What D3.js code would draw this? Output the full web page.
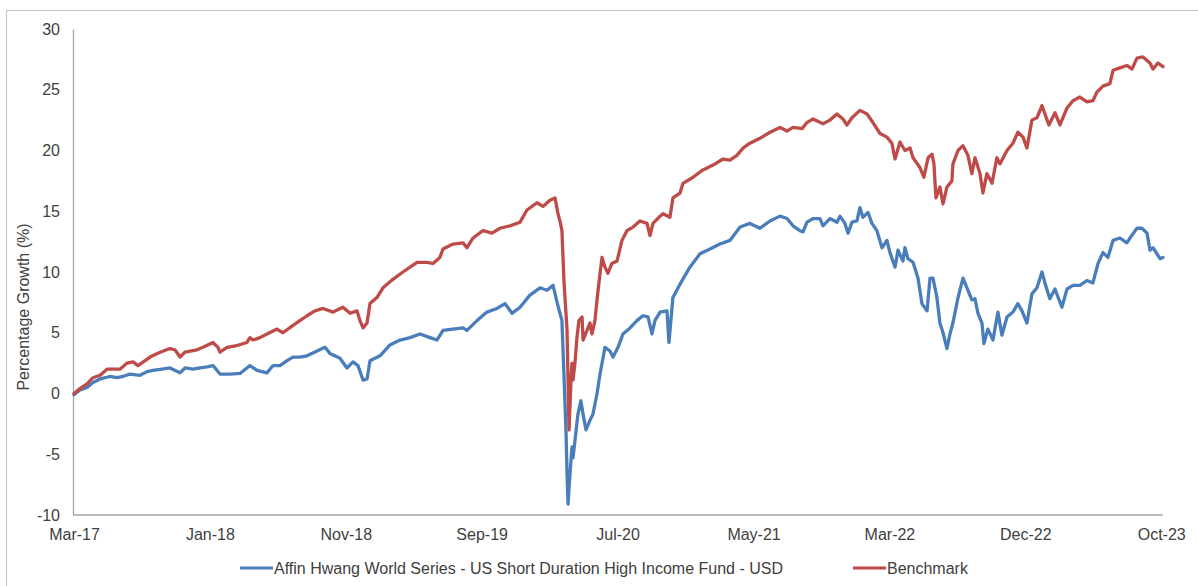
<!DOCTYPE html>
<html>
<head>
<meta charset="utf-8">
<script src="https://cdn.jsdelivr.net/npm/d3@7"></script>
<style>
  body { margin: 0; background: #fff; }
  text { font-family: "Liberation Sans", Arial, sans-serif; fill: #404040; }
</style>
</head>
<body>
<svg width="1198" height="586"></svg>
<script>
// x values are decimal years, y values are % growth
var fund = [
  [2017.200, -0.1], [2017.236, 0.3], [2017.279, 0.5], [2017.315, 0.9], [2017.358, 1.2],
  [2017.418, 1.4], [2017.461, 1.3], [2017.497, 1.4], [2017.540, 1.6], [2017.600, 1.5],
  [2017.643, 1.8], [2017.679, 1.9], [2017.734, 2.0], [2017.782, 2.1], [2017.843, 1.7],
  [2017.873, 2.1], [2017.922, 2.0], [2017.964, 2.1], [2018.007, 2.2], [2018.043, 2.3],
  [2018.085, 1.6], [2018.146, 1.6], [2018.207, 1.65], [2018.267, 2.3], [2018.310, 1.9],
  [2018.370, 1.7], [2018.407, 2.3], [2018.449, 2.3], [2018.492, 2.7], [2018.528, 3.0],
  [2018.570, 3.0], [2018.613, 3.1], [2018.674, 3.5], [2018.722, 3.8], [2018.752, 3.3],
  [2018.813, 2.9], [2018.855, 2.1], [2018.892, 2.6], [2018.922, 2.3], [2018.953, 1.1],
  [2018.977, 1.2], [2018.995, 2.7], [2019.056, 3.1], [2019.116, 4.0], [2019.177, 4.4],
  [2019.238, 4.6], [2019.298, 4.9], [2019.359, 4.6], [2019.401, 4.4], [2019.438, 5.2],
  [2019.498, 5.3], [2019.559, 5.4], [2019.583, 5.2], [2019.644, 6.0], [2019.704, 6.7],
  [2019.765, 7.0], [2019.814, 7.4], [2019.856, 6.6], [2019.905, 7.1], [2019.965, 8.1],
  [2020.026, 8.7], [2020.068, 8.5], [2020.105, 8.9], [2020.135, 7.2], [2020.159, 6.0],
  [2020.171, 1.6], [2020.184, -3.3], [2020.190, -6.6], [2020.196, -9.1], [2020.208, -6.6],
  [2020.220, -4.4], [2020.226, -5.3], [2020.238, -3.9], [2020.256, -1.7], [2020.274, -0.6],
  [2020.287, -1.7], [2020.305, -3.0], [2020.329, -2.2], [2020.347, -1.7], [2020.372, 0.0],
  [2020.390, 1.6], [2020.420, 3.8], [2020.450, 3.5], [2020.469, 3.0], [2020.499, 3.8],
  [2020.529, 4.9], [2020.572, 5.4], [2020.614, 6.0], [2020.650, 6.4], [2020.681, 6.3],
  [2020.705, 4.9], [2020.723, 6.0], [2020.754, 6.7], [2020.796, 6.8], [2020.808, 4.2],
  [2020.832, 7.9], [2020.875, 9.0], [2020.935, 10.4], [2020.996, 11.5], [2021.057, 11.9],
  [2021.117, 12.3], [2021.178, 12.6], [2021.239, 13.7], [2021.299, 14.0], [2021.360, 13.6],
  [2021.421, 14.2], [2021.481, 14.6], [2021.524, 14.4], [2021.560, 13.8], [2021.602, 13.4],
  [2021.621, 13.3], [2021.645, 14.1], [2021.681, 14.4], [2021.724, 14.4], [2021.742, 13.8],
  [2021.784, 14.4], [2021.827, 14.1], [2021.845, 14.6], [2021.875, 14.0], [2021.894, 13.2],
  [2021.918, 14.1], [2021.948, 14.2], [2021.966, 15.3], [2021.984, 14.5], [2022.015, 14.9],
  [2022.039, 14.0], [2022.069, 13.4], [2022.100, 12.0], [2022.130, 12.6], [2022.148, 11.6],
  [2022.179, 10.4], [2022.197, 11.8], [2022.227, 10.9], [2022.239, 12.0], [2022.257, 11.1],
  [2022.288, 10.8], [2022.318, 9.5], [2022.342, 7.4], [2022.373, 6.8], [2022.391, 9.5],
  [2022.409, 9.5], [2022.433, 7.9], [2022.451, 5.8], [2022.470, 5.0], [2022.494, 3.7],
  [2022.512, 4.9], [2022.530, 5.8], [2022.561, 7.9], [2022.591, 9.5], [2022.615, 8.7],
  [2022.645, 7.7], [2022.664, 7.8], [2022.682, 6.6], [2022.706, 5.8], [2022.718, 4.1],
  [2022.742, 5.3], [2022.773, 4.4], [2022.803, 6.7], [2022.827, 4.8], [2022.858, 6.3],
  [2022.894, 6.7], [2022.924, 7.4], [2022.949, 6.8], [2022.979, 5.8], [2023.009, 8.2],
  [2023.040, 8.7], [2023.070, 10.0], [2023.088, 9.1], [2023.118, 7.8], [2023.149, 8.6],
  [2023.191, 7.1], [2023.222, 8.6], [2023.258, 8.9], [2023.300, 8.9], [2023.343, 9.3],
  [2023.379, 9.1], [2023.410, 10.7], [2023.440, 11.6], [2023.470, 11.2], [2023.501, 12.6],
  [2023.543, 12.8], [2023.585, 12.4], [2023.604, 12.8], [2023.646, 13.6], [2023.676, 13.6],
  [2023.707, 13.2], [2023.725, 11.8], [2023.743, 12.0], [2023.767, 11.5], [2023.786, 11.1],
  [2023.804, 11.2]
];

var benchmark = [
  [2017.200, 0.0], [2017.236, 0.4], [2017.279, 0.8], [2017.315, 1.3], [2017.358, 1.5],
  [2017.400, 2.0], [2017.437, 2.0], [2017.479, 2.0], [2017.521, 2.5], [2017.558, 2.6],
  [2017.588, 2.3], [2017.631, 2.7], [2017.661, 3.0], [2017.722, 3.4], [2017.782, 3.7],
  [2017.812, 3.6], [2017.843, 3.0], [2017.873, 3.4], [2017.946, 3.6], [2017.982, 3.8],
  [2018.043, 4.2], [2018.073, 3.8], [2018.085, 3.4], [2018.128, 3.8], [2018.188, 3.95],
  [2018.249, 4.2], [2018.267, 4.6], [2018.285, 4.4], [2018.328, 4.6], [2018.370, 4.9],
  [2018.431, 5.3], [2018.467, 5.0], [2018.528, 5.6], [2018.570, 6.0], [2018.613, 6.4],
  [2018.661, 6.8], [2018.710, 7.0], [2018.771, 6.7], [2018.831, 7.1], [2018.874, 6.6],
  [2018.916, 6.8], [2018.934, 6.0], [2018.953, 5.4], [2018.977, 5.8], [2018.995, 7.4],
  [2019.037, 7.9], [2019.074, 8.7], [2019.134, 9.4], [2019.195, 10.0], [2019.280, 10.8],
  [2019.341, 10.8], [2019.377, 10.7], [2019.419, 11.2], [2019.438, 11.9], [2019.498, 12.3],
  [2019.559, 12.4], [2019.583, 12.0], [2019.620, 12.8], [2019.680, 13.4], [2019.735, 13.2],
  [2019.783, 13.6], [2019.844, 13.8], [2019.905, 14.1], [2019.947, 15.1], [2020.008, 15.7],
  [2020.044, 15.4], [2020.086, 15.9], [2020.117, 16.1], [2020.135, 14.8], [2020.147, 14.2],
  [2020.159, 13.4], [2020.171, 9.3], [2020.190, 5.2], [2020.196, 1.1], [2020.202, -3.0],
  [2020.214, 1.1], [2020.220, 2.5], [2020.226, 1.1], [2020.238, 2.5], [2020.250, 4.6],
  [2020.262, 6.0], [2020.281, 6.3], [2020.287, 4.4], [2020.311, 5.2], [2020.329, 5.8],
  [2020.341, 4.9], [2020.359, 6.0], [2020.378, 8.5], [2020.402, 11.2], [2020.420, 10.4],
  [2020.438, 9.9], [2020.462, 10.7], [2020.493, 10.9], [2020.523, 12.6], [2020.553, 13.4],
  [2020.590, 13.7], [2020.632, 14.2], [2020.675, 14.0], [2020.693, 13.0], [2020.711, 14.0],
  [2020.747, 14.5], [2020.772, 14.8], [2020.814, 14.5], [2020.832, 16.1], [2020.875, 16.5],
  [2020.893, 17.3], [2020.954, 17.8], [2021.014, 18.4], [2021.075, 18.8], [2021.136, 19.3],
  [2021.178, 19.2], [2021.220, 19.6], [2021.257, 20.2], [2021.299, 20.6], [2021.360, 21.0],
  [2021.421, 21.5], [2021.481, 21.9], [2021.524, 21.6], [2021.560, 21.9], [2021.615, 21.8],
  [2021.645, 22.3], [2021.681, 22.6], [2021.742, 22.2], [2021.784, 22.5], [2021.827, 23.0],
  [2021.863, 22.6], [2021.887, 22.1], [2021.918, 22.7], [2021.966, 23.3], [2022.009, 23.0],
  [2022.045, 22.3], [2022.088, 21.4], [2022.130, 21.1], [2022.160, 20.6], [2022.179, 19.3],
  [2022.209, 20.7], [2022.239, 20.0], [2022.270, 20.2], [2022.288, 19.4], [2022.330, 18.6],
  [2022.354, 17.8], [2022.379, 19.4], [2022.403, 19.7], [2022.415, 18.9], [2022.427, 16.1],
  [2022.451, 17.0], [2022.470, 15.6], [2022.494, 17.0], [2022.524, 17.5], [2022.530, 18.9],
  [2022.561, 20.0], [2022.591, 20.4], [2022.621, 19.6], [2022.645, 18.1], [2022.664, 19.4],
  [2022.694, 18.1], [2022.712, 16.5], [2022.736, 18.1], [2022.767, 17.3], [2022.797, 19.4],
  [2022.815, 18.9], [2022.858, 20.0], [2022.894, 20.6], [2022.924, 21.5], [2022.955, 21.1],
  [2022.979, 20.2], [2023.009, 22.5], [2023.040, 22.7], [2023.070, 23.7], [2023.088, 23.0],
  [2023.112, 22.1], [2023.149, 23.1], [2023.179, 22.1], [2023.222, 23.5], [2023.258, 24.1],
  [2023.300, 24.4], [2023.343, 24.0], [2023.379, 24.1], [2023.403, 24.8], [2023.440, 25.3],
  [2023.482, 25.5], [2023.501, 26.6], [2023.543, 26.8], [2023.585, 27.0], [2023.616, 26.7],
  [2023.646, 27.6], [2023.682, 27.7], [2023.725, 27.2], [2023.743, 26.7], [2023.773, 27.2],
  [2023.804, 26.9]
];

var xTicks = [2017.200, 2018.024, 2018.848, 2019.672, 2020.496, 2021.321, 2022.145, 2022.969, 2023.793];
var xTickLabels = ["Mar-17", "Jan-18", "Nov-18", "Sep-19", "Jul-20", "May-21", "Mar-22", "Dec-22", "Oct-23"];
var yTicks = [-10, -5, 0, 5, 10, 15, 20, 25, 30];
var seriesNames = ["Affin Hwang World Series - US Short Duration High Income Fund - USD", "Benchmark"];
var seriesColors = ["#4a7ebb", "#be4b48"];

var svg = d3.select("svg");

// outer chart frame
svg.append("rect")
    .attr("x", 6.5).attr("y", 10.5)
    .attr("width", 1300).attr("height", 700)
    .attr("fill", "#fff")
    .attr("stroke", "#c8c8c8")
    .attr("stroke-width", 1.2);

var x = d3.scaleLinear().domain([2017.2, 2023.804]).range([74, 1163]);
var y = d3.scaleLinear().domain([-10, 30]).range([515, 29]);

var yAxis = svg.append("g")
    .attr("transform", "translate(73,0)")
    .call(d3.axisLeft(y).tickValues(yTicks).tickFormat(function(d) { return String(d); }).tickSize(0).tickPadding(13));
yAxis.select(".domain").attr("stroke", "#a6a6a6").attr("stroke-width", 1.3);
yAxis.selectAll("text").style("font-size", "16px").style("font-family", "Liberation Sans, Arial, sans-serif").attr("fill", "#404040");

var xAxis = svg.append("g")
    .attr("transform", "translate(0,515)")
    .call(d3.axisBottom(x).tickValues(xTicks).tickFormat(function(d, i) { return xTickLabels[i]; }).tickSize(0).tickPadding(14));
xAxis.select(".domain").attr("stroke", "#a6a6a6").attr("stroke-width", 1.3).attr("d", "M73,0H1163");
xAxis.selectAll("text").style("font-size", "16px").style("font-family", "Liberation Sans, Arial, sans-serif").attr("fill", "#404040");

svg.append("text")
    .attr("transform", "translate(29,307) rotate(-90)")
    .attr("text-anchor", "middle")
    .style("font-size", "16px")
    .text("Percentage Growth (%)");

var line = d3.line()
    .x(function(d) { return x(d[0]); })
    .y(function(d) { return y(d[1]); });

[fund, benchmark].forEach(function(s, i) {
  svg.append("path")
      .datum(s)
      .attr("fill", "none")
      .attr("stroke", seriesColors[i])
      .attr("stroke-width", 3.3)
      .attr("stroke-linejoin", "round")
      .attr("stroke-linecap", "round")
      .attr("d", line);
});

// legend
var legend = svg.append("g").attr("transform", "translate(0,568)");
var legendX = [240, 853];
seriesNames.forEach(function(name, i) {
  legend.append("line")
      .attr("x1", legendX[i]).attr("x2", legendX[i] + 33)
      .attr("y1", 0).attr("y2", 0)
      .attr("stroke", seriesColors[i])
      .attr("stroke-width", 3);
  legend.append("text")
      .attr("x", legendX[i] + 34)
      .attr("y", 5.5)
      .style("font-size", "16px")
      .text(name);
});
</script>
</body>
</html>
